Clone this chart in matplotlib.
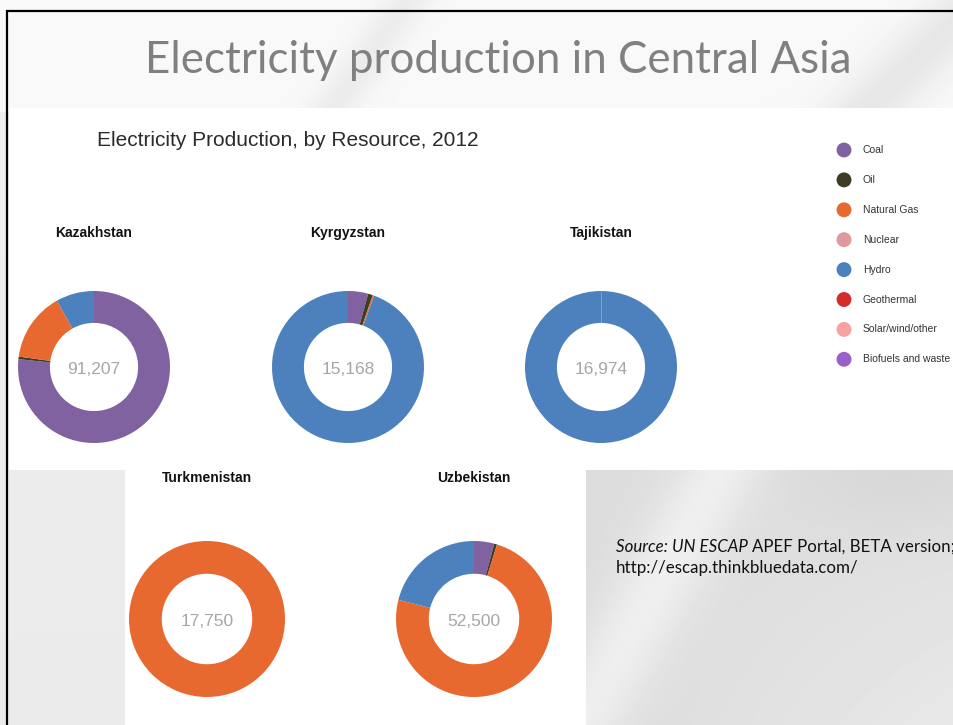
import numpy as np
import matplotlib.pyplot as plt
from matplotlib.patches import Rectangle

W, H = 954, 725

resources = ["Coal", "Oil", "Natural Gas", "Nuclear", "Hydro",
             "Geothermal", "Solar/wind/other", "Biofuels and waste"]
colors = ["#8062a1", "#3f3b24", "#e8692f", "#de9a9a", "#4c81bd",
          "#d42b2b", "#f9a1a1", "#9b5fcb"]

countries = ["Kazakhstan", "Kyrgyzstan", "Tajikistan", "Turkmenistan", "Uzbekistan"]
# GWh by resource, same order as `resources`
kazakhstan = [69907, 500, 13400, 0, 7400, 0, 0, 0]
kyrgyzstan = [650, 150, 50, 0, 14318, 0, 0, 0]
tajikistan = [0, 0, 30, 0, 16944, 0, 0, 0]
turkmenistan = [0, 0, 17750, 0, 0, 0, 0, 0]
uzbekistan = [2200, 300, 38950, 0, 11050, 0, 0, 0]
production = [kazakhstan, kyrgyzstan, tajikistan, turkmenistan, uzbekistan]

# donut centre x, centre y, radius (pixels)
layout = [(94, 367, 76), (348, 367, 76), (601, 367, 76), (207, 619, 78), (474, 619, 78)]

fig = plt.figure(figsize=(W / 100, H / 100), dpi=100)
bg = fig.add_axes([0, 0, 1, 1])
bg.set_xlim(0, W)
bg.set_ylim(H, 0)
bg.axis("off")

# slide background with soft swooshes
yy, xx = np.mgrid[0:H, 0:W].astype(float)
img = 0.935 - 0.015 * yy / H
head = yy < 112
img += 0.04 * head
img -= 0.05 * head * np.exp(-((xx - (400 - 0.7 * (yy - 11))) / 25) ** 2)
img -= 0.07 * head * np.exp(-((xx - (965 - 1.0 * (yy - 11))) / 45) ** 2)
lr = (yy >= 465) & (xx >= 580)
img -= 0.06 * lr
img += 0.07 * lr * np.exp(-((xx - (720 - 0.55 * (yy - 470))) / 45) ** 2)
img -= 0.02 * lr * np.exp(-((xx - 900) / 90) ** 2 - ((yy - 480) / 50) ** 2)
img += 0.05 * lr * (yy - 465) / (H - 465) * (xx - 580) / (W - 580)
bg.imshow(img, cmap="gray", vmin=0, vmax=1, extent=(0, W, H, 0), aspect="auto", zorder=0)

# chart picture area
bg.add_patch(Rectangle((9, 108), W - 9, 362, facecolor="white", edgecolor="none", zorder=1))
bg.add_patch(Rectangle((125, 470), 461, H - 470, facecolor="white", edgecolor="none", zorder=1))

bg.plot([7.5, 7.5, W], [H, 11, 11], color="black", lw=1.6, solid_joinstyle="miter", zorder=5)

renderer = fig.canvas.get_renderer()


def fit_width(t, target):
    w = t.get_window_extent(renderer).width
    t.set_fontsize(t.get_fontsize() * target / w)
    return t


title = bg.text(498.5, 73, "Electricity production in Central Asia", ha="center", va="baseline",
                color="#808080", fontsize=30, family="Lato", zorder=3)
fit_width(title, 703)

bg.text(97, 146, "Electricity Production, by Resource, 2012", ha="left", va="baseline",
        color="#2b2b2b", fontsize=15, family="Liberation Sans", zorder=3)

label_y = [237, 237, 237, 482, 482]
for name, vals, (cx, cy, r), ly in zip(countries, production, layout, label_y):
    bg.text(cx, ly, name, ha="center", va="baseline", fontsize=10, fontweight="bold",
            color="#111111", family="Liberation Sans", zorder=3)
    ax = fig.add_axes([(cx - r) / W, 1 - (cy + r) / H, 2 * r / W, 2 * r / H])
    ax.pie(vals, colors=colors, startangle=90, counterclock=False, radius=1,
           wedgeprops=dict(width=0.42, edgecolor="none"))
    ax.set_xlim(-1, 1)
    ax.set_ylim(-1, 1)
    ax.axis("off")
    ax.text(0, -0.03, f"{sum(vals):,}", ha="center", va="center", fontsize=12.5,
            color="#a6a6a6", family="Liberation Sans")

# legend
leg_y = np.arange(len(resources)) * 29.9 + 150
bg.scatter(np.full(len(resources), 844), leg_y, s=115, c=colors, edgecolors="none", zorder=3)
for name, y in zip(resources, leg_y):
    bg.text(863, y, name, ha="left", va="center", fontsize=7.5, color="#333333",
            family="Liberation Sans", zorder=3)

# source note
line2 = bg.text(616, 573, "http://escap.thinkbluedata.com/", ha="left", va="baseline",
                color="#111111", fontsize=12, family="Lato", zorder=3)
fit_width(line2, 241)
fs = line2.get_fontsize()
src1 = bg.text(616, 552, "Source: UN ESCAP", ha="left", va="baseline", style="italic",
               color="#111111", fontsize=fs, family="Lato", zorder=3)
w1 = src1.get_window_extent(renderer).width
bg.text(616 + w1 + fs * 0.35, 552, "APEF Portal, BETA version;", ha="left", va="baseline",
        color="#111111", fontsize=fs, family="Lato", zorder=3)

fig.savefig("out.png", dpi=100)
